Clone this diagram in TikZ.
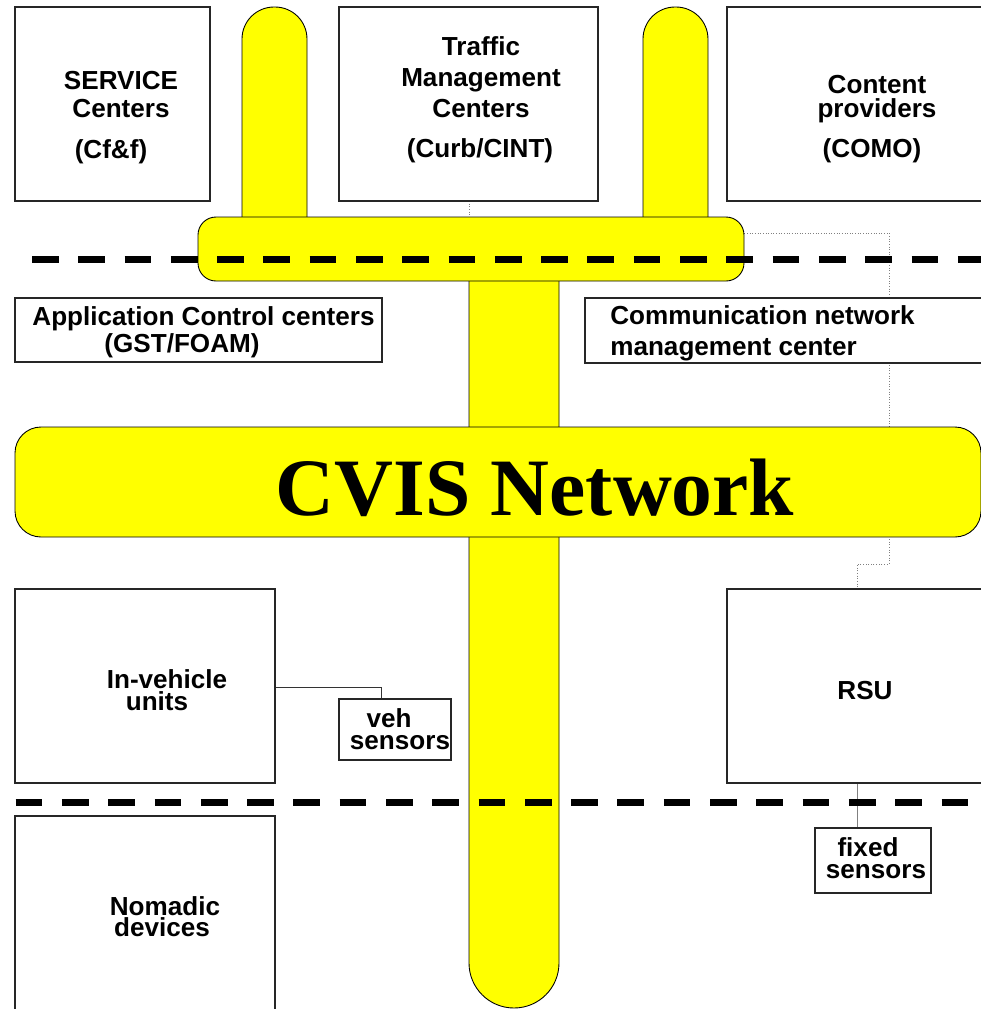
\documentclass[tikz,border=0pt]{standalone}
\usepackage{fontspec}
\setsansfont{Liberation Sans}
\newfontfamily\cvisfont{Liberation Serif}
\usepackage{tikz}
\usetikzlibrary{positioning,fit,calc,backgrounds}

\definecolor{busyellow}{RGB}{255,255,0}
\newcommand{\lbf}[1]{\sffamily\bfseries\fontsize{14.85pt}{#1pt}\selectfont}

\begin{document}
\begin{tikzpicture}[
    x=0.02cm, y=-0.02cm,
    box/.style={draw=black!85, line width=0.6pt, fill=white, inner sep=0pt},
    pipe/.style={draw=black, line width=0.5pt, fill=busyellow},
    zone/.style={line width=4pt, dash pattern=on 0.533cm off 0.393cm},
    mgmt/.style={draw=gray, densely dotted, line width=0.5pt},
    link/.style={draw=black!80, line width=0.5pt},
    lbl/.style={font=\lbf{15.9}, align=center, anchor=base, inner sep=0pt}
]
    \useasboundingbox (0,0) rectangle (981,1009);
    \clip (0,0) rectangle (981,1009);

    % --- BOXES ---
    \node[box, fit={(15,7) (210,201)}] (svc) {};
    \node[box, fit={(339,7) (598,201)}] (tmc) {};
    \node[box, fit={(727,7) (1000,201)}] (cp) {};
    \node[box, fit={(15,298) (382,362)}] (acc) {};
    \node[box, fit={(585,298) (1000,363)}] (cnm) {};
    \node[box, fit={(15,589) (275,783)}] (inv) {};
    \node[box, fit={(339,699) (451,760)}] (veh) {};
    \node[box, fit={(15,816) (275,1030)}] (nom) {};
    \node[box, fit={(727,589) (1000,783)}] (rsu) {};
    \node[box, fit={(815,828) (931,893)}] (fix) {};

    % --- YELLOW BACKBONE ---
    \filldraw[pipe, rounded corners=0.64cm] (242,230) -- (242,7) -- (307,7) -- (307,230);
    \filldraw[pipe, rounded corners=0.64cm] (643,230) -- (643,7) -- (708,7) -- (708,230);
    \filldraw[pipe, rounded corners=0.9cm] (469,260) -- (469,1008) -- (559,1008) -- (559,260);
    \node[pipe, rounded corners=0.36cm, inner sep=0pt, fit={(198,217) (744,281)}] (hbar) {};
    \node[pipe, rounded corners=0.52cm, inner sep=0pt, fit={(15,427) (981,537)}] (cvis) {};

    % --- LINKS (behind boxes and backbone) ---
    \coordinate (tap) at (469,201);
    \coordinate (j1) at (889,233);
    \coordinate (j2) at (857,564);
    \coordinate (vk) at (381,687);
    \begin{scope}[on background layer]
        \draw[mgmt] (tap) -- (tap |- hbar.north);
        \draw[mgmt] (hbar.east |- j1) -- (j1) |- (j2) -- (j2 |- rsu.north);
        \draw[link] (inv.east |- vk) -| (vk |- veh.north);
        \draw[link, draw=gray] (j2 |- rsu.south) -- (j2 |- fix.north);
    \end{scope}

    % --- DOMAIN BORDERS ---
    \draw[zone] (32,259.3) -- (981,259.3);
    \draw[zone] (15.7,802.7) -- (981,802.7);

    % --- TEXTS ---
    \node[lbl, font=\lbf{15.9}] (svcT) at (121,117) {SERVICE\\Centers};
    \node[lbl] (svcC) at (111,158) {(Cf\&f)};
    \node[lbl, font=\lbf{17.6}] (tmcT) at (481,117) {Traffic\\Management\\Centers};
    \node[lbl] (tmcC) at (480,157) {(Curb/CINT)};
    \node[lbl, font=\lbf{13.6}] (cpT) at (877,117) {Content\\providers};
    \node[lbl] (cpC) at (872,157) {(COMO)};
    \node[lbl] (accT) at (203.5,325) {Application Control centers};
    \node[lbl] (accC) at (182,352) {(GST/FOAM)};
    \node[lbl, font=\lbf{17.6}, align=left, anchor=base west] (cnmT) at (610,355) {Communication network\\management center};
    \node[font=\cvisfont\bfseries\fontsize{46.4pt}{50pt}\selectfont, anchor=base, inner sep=0pt] (cvisT) at (535,515) {CVIS Network};
    \node[lbl] (invA) at (167,688) {In-vehicle};
    \node[lbl] (invB) at (157,710) {units};
    \node[lbl] (vehA) at (389,727) {veh};
    \node[lbl] (vehB) at (400,749) {sensors};
    \node[lbl] (nomA) at (165,915) {Nomadic};
    \node[lbl] (nomB) at (162,936) {devices};
    \node[lbl] (rsuT) at (865,699) {RSU};
    \node[lbl] (fixA) at (868,856) {fixed};
    \node[lbl] (fixB) at (876,878) {sensors};
\end{tikzpicture}
\end{document}
